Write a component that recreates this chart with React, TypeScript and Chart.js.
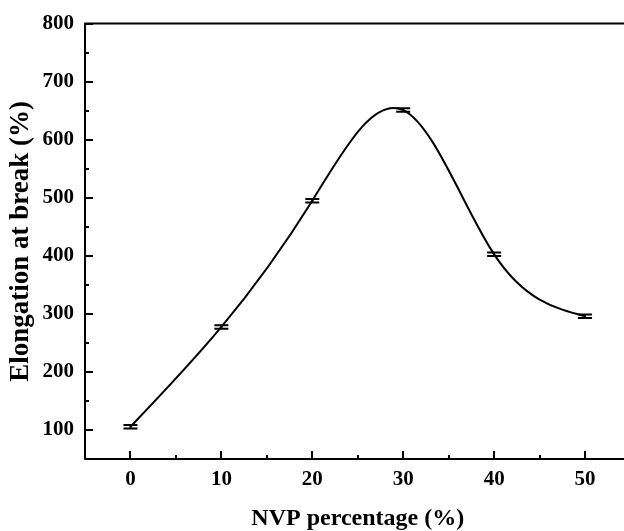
import React, { useEffect, useRef } from "react";
import { Chart, registerables } from "chart.js";

Chart.register(...registerables);

const nvpPercent = [0, 10, 20, 30, 40, 50];
const elongation = [105.5, 277.5, 495, 651, 402.5, 296];
const errors = [3, 3, 3, 3, 3, 3];
const xTicks = [0, 10, 20, 30, 40, 50];
const xMinorTicks = [5, 15, 25, 35, 45];
const yTicks = [100, 200, 300, 400, 500, 600, 700, 800];
const yMinorTicks = [150, 250, 350, 450, 550, 650, 750];

const FONT = "'Liberation Serif', 'Times New Roman', serif";

// natural cubic spline slopes in data space
function splineSlopes(xs: number[], ys: number[]): number[] {
  const n = xs.length;
  const h: number[] = [];
  for (let i = 0; i < n - 1; i++) h.push(xs[i + 1] - xs[i]);
  const M = new Array(n).fill(0);
  if (n > 2) {
    const a: number[] = [], b: number[] = [], c: number[] = [], d: number[] = [];
    for (let i = 1; i < n - 1; i++) {
      a.push(h[i - 1]);
      b.push(2 * (h[i - 1] + h[i]));
      c.push(h[i]);
      d.push(6 * ((ys[i + 1] - ys[i]) / h[i] - (ys[i] - ys[i - 1]) / h[i - 1]));
    }
    const m = b.length;
    const cp = new Array(m).fill(0), dp = new Array(m).fill(0);
    cp[0] = c[0] / b[0];
    dp[0] = d[0] / b[0];
    for (let i = 1; i < m; i++) {
      const den = b[i] - a[i] * cp[i - 1];
      cp[i] = c[i] / den;
      dp[i] = (d[i] - a[i] * dp[i - 1]) / den;
    }
    const sol = new Array(m).fill(0);
    sol[m - 1] = dp[m - 1];
    for (let i = m - 2; i >= 0; i--) sol[i] = dp[i] - cp[i] * sol[i + 1];
    for (let i = 0; i < m; i++) M[i + 1] = sol[i];
  }
  const s: number[] = [];
  for (let i = 0; i < n - 1; i++) {
    s.push((ys[i + 1] - ys[i]) / h[i] - (h[i] * (2 * M[i] + M[i + 1])) / 6);
  }
  const k = n - 1;
  s.push((ys[k] - ys[k - 1]) / h[k - 1] + (h[k - 1] * (M[k - 1] + 2 * M[k])) / 6);
  return s;
}

const framePlugin = {
  id: "frameAndErrors",
  afterDatasetsDraw(chart: any) {
    const { ctx, chartArea, scales } = chart;
    const xs = scales.x;
    const ys = scales.y;
    ctx.save();
    ctx.strokeStyle = "#000";
    ctx.fillStyle = "#000";
    // spline curve
    const slopes = splineSlopes(nvpPercent, elongation);
    ctx.lineWidth = 2;
    ctx.lineJoin = "round";
    ctx.beginPath();
    ctx.moveTo(xs.getPixelForValue(nvpPercent[0]), ys.getPixelForValue(elongation[0]));
    for (let i = 0; i < nvpPercent.length - 1; i++) {
      const x0 = nvpPercent[i], x1 = nvpPercent[i + 1];
      const y0 = elongation[i], y1 = elongation[i + 1];
      const h = x1 - x0;
      ctx.bezierCurveTo(
        xs.getPixelForValue(x0 + h / 3), ys.getPixelForValue(y0 + (h / 3) * slopes[i]),
        xs.getPixelForValue(x1 - h / 3), ys.getPixelForValue(y1 - (h / 3) * slopes[i + 1]),
        xs.getPixelForValue(x1), ys.getPixelForValue(y1)
      );
    }
    ctx.stroke();
    // error bars
    ctx.lineWidth = 2;
    nvpPercent.forEach((xv, i) => {
      const px = xs.getPixelForValue(xv);
      const top = ys.getPixelForValue(elongation[i] + errors[i]);
      const bot = ys.getPixelForValue(elongation[i] - errors[i]);
      const hw = 7;
      ctx.beginPath();
      ctx.moveTo(px - hw, top);
      ctx.lineTo(px + hw, top);
      ctx.moveTo(px - hw, bot);
      ctx.lineTo(px + hw, bot);
      ctx.moveTo(px, top);
      ctx.lineTo(px, bot);
      ctx.stroke();
    });
    // frame
    const { left, right, top, bottom } = chartArea;
    ctx.lineWidth = 2;
    ctx.beginPath();
    ctx.rect(left, top, right - left, bottom - top);
    ctx.stroke();
    // inward ticks
    const major = 8;
    const minor = 4;
    ctx.beginPath();
    xTicks.forEach((v) => {
      const p = Math.round(xs.getPixelForValue(v));
      ctx.moveTo(p, bottom);
      ctx.lineTo(p, bottom - major);
    });
    xMinorTicks.forEach((v) => {
      const p = Math.round(xs.getPixelForValue(v));
      ctx.moveTo(p, bottom);
      ctx.lineTo(p, bottom - minor);
    });
    yTicks.forEach((v) => {
      const p = Math.round(ys.getPixelForValue(v));
      ctx.moveTo(left, p);
      ctx.lineTo(left + major, p);
    });
    yMinorTicks.forEach((v) => {
      const p = Math.round(ys.getPixelForValue(v));
      ctx.moveTo(left, p);
      ctx.lineTo(left + minor, p);
    });
    ctx.stroke();
    ctx.restore();
  },
};

export default function App() {
  const ref = useRef<HTMLCanvasElement | null>(null);
  useEffect(() => {
    if (!ref.current) return;
    const chart = new Chart(ref.current, {
      type: "line",
      data: {
        datasets: [
          {
            data: nvpPercent.map((x, i) => ({ x, y: elongation[i] })),
            borderColor: "#000",
            borderWidth: 2,
            pointRadius: 0,
            showLine: false,
            fill: false,
          },
        ],
      },
      options: {
        responsive: false,
        animation: false,
        devicePixelRatio: 1,
        layout: { padding: { top: 19, right: 9.5, left: 0, bottom: 0 } },
        plugins: { legend: { display: false }, tooltip: { enabled: false } },
        scales: {
          x: {
            type: "linear",
            min: -5,
            max: 55,
            grid: { display: false, drawTicks: false },
            border: { display: false },
            afterBuildTicks: (s: any) => {
              s.ticks = xTicks.map((v) => ({ value: v }));
            },
            afterFit: (s: any) => {
              s.height = 72;
            },
            ticks: {
              color: "#000",
              padding: 8,
              font: { family: FONT, size: 21, weight: "bold" },
              maxRotation: 0,
            },
            title: {
              display: true,
              text: "NVP percentage (%)",
              color: "#000",
              padding: { top: 0, bottom: 0 },
              font: { family: FONT, size: 24, weight: "bold", lineHeight: 1 },
            },
          },
          y: {
            type: "linear",
            min: 50,
            max: 800,
            grid: { display: false, drawTicks: false },
            border: { display: false },
            afterBuildTicks: (s: any) => {
              s.ticks = yTicks.map((v) => ({ value: v }));
            },
            afterFit: (s: any) => {
              s.width = 85;
            },
            ticks: {
              color: "#000",
              padding: 11,
              font: { family: FONT, size: 21, weight: "bold" },
            },
            title: {
              display: true,
              text: "Elongation at break (%)",
              color: "#000",
              padding: { top: 8, bottom: 0 },
              font: { family: FONT, size: 27, weight: "bold", lineHeight: 1 },
            },
          },
        },
      },
      plugins: [framePlugin],
    });
    return () => chart.destroy();
  }, []);
  return (
    <div style={{ position: "fixed", left: 0, top: 0, width: 640, height: 531, background: "#fff" }}>
      <canvas ref={ref} width={640} height={531} style={{ display: "block" }} />
    </div>
  );
}
